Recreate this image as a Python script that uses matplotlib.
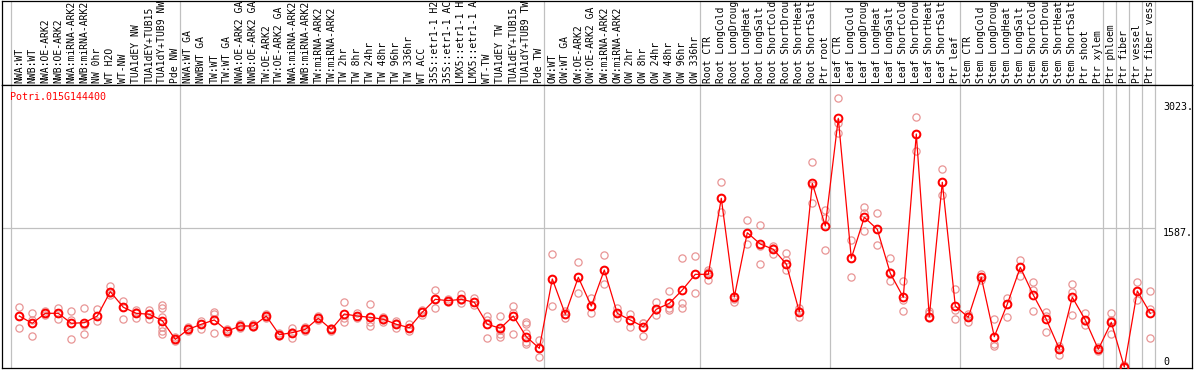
import matplotlib
matplotlib.use('Agg')
import matplotlib.pyplot as plt
from matplotlib.transforms import blended_transform_factory

# Sample names (top header), in plotting order
labels = [
    'NWA:WT', 'NWB:WT', 'NWA:OE-ARK2', 'NWB:OE-ARK2', 'NWA:miRNA-ARK2', 'NWB:miRNA-ARK2',
    'NW 0hr', 'WT H2O', 'WT-NW', 'TUA1dEY NW', 'TUA1dEY+TUB15', 'TUA1dY+TUB9 NW', 'Pde NW',
    'NWA:WT GA', 'NWBWT GA', 'TW:WT', 'TW:WT GA', 'NWA:OE-ARK2 GA', 'NWB:OE-ARK2 GA',
    'TW:OE-ARK2', 'TW:OE-ARK2 GA', 'NWA:miRNA-ARK2', 'NWB:miRNA-ARK2', 'TW:miRNA-ARK2',
    'TW:miRNA-ARK2', 'TW 2hr', 'TW 8hr', 'TW 24hr', 'TW 48hr', 'TW 96hr', 'TW 336hr', 'WT ACC',
    '35S::etr1-1 H2', '35S::etr1-1 AC', 'LMX5::etr1-1 H', 'LMX5::etr1-1 A', 'WT-TW',
    'TUA1dEY TW', 'TUA1dEY+TUB15', 'TUA1dY+TUB9 TW', 'Pde TW',
    'OW:WT', 'OW:WT GA', 'OW:OE-ARK2', 'OW:OE-ARK2 GA', 'OW:miRNA-ARK2', 'OW:miRNA-ARK2',
    'OW 2hr', 'OW 8hr', 'OW 24hr', 'OW 48hr', 'OW 96hr', 'OW 336hr',
    'Root CTR', 'Root LongCold', 'Root LongDroug', 'Root LongHeat', 'Root LongSalt',
    'Root ShortCold', 'Root ShortDrou', 'Root ShortHeat', 'Root ShortSalt', 'Ptr root',
    'Leaf CTR', 'Leaf LongCold', 'Leaf LongDroug', 'Leaf LongHeat', 'Leaf LongSalt',
    'Leaf ShortCold', 'Leaf ShortDrou', 'Leaf ShortHeat', 'Leaf ShortSalt', 'Ptr leaf',
    'Stem CTR', 'Stem LongCold', 'Stem LongDroug', 'Stem LongHeat', 'Stem LongSalt',
    'Stem ShortCold', 'Stem ShortDrou', 'Stem ShortHeat', 'Stem ShortSalt', 'Ptr shoot',
    'Ptr xylem', 'Ptr phloem', 'Ptr fiber', 'Ptr vessel', 'Ptr fiber vess',
]

# number of samples in each block between the grey separators
group_sizes = [13, 28, 12, 10, 10, 11, 1, 1, 1, 1]

# mean expression per sample
means = [
    582, 499, 613, 613, 499, 506, 582, 860, 682, 613, 602, 529, 316,
    430, 488, 537, 411, 468, 468, 582, 369, 392, 430, 556, 430, 605, 582, 567, 545,
    488, 449, 625, 773, 757, 773, 739, 488, 442, 582, 346, 213,
    1005, 602, 1024, 696, 1107, 613, 537, 460, 659, 727, 879, 1058,
    1058, 1926, 799, 1533, 1404, 1344, 1176, 631, 2097, 1610,
    2839, 1241, 1709, 1572, 1070, 796, 2660, 574, 2109, 696,
    567, 1024, 346, 719, 1138, 822, 545, 206, 796, 537, 202,
    510, 0, 868, 613,
]

# individual replicates per sample
reps = [
    [688, 442, 582], [613, 350, 537], [639, 613, 588], [677, 551, 613], [639, 316, 537],
    [670, 373, 480], [659, 522, 582], [925, 822, 845], [753, 545, 685], [651, 559, 628],
    [651, 548, 605], [708, 670, 567, 460, 414, 377], [316, 343, 297],
    [460, 430, 411], [529, 437, 488], [625, 600, 385], [434, 411, 388], [491, 468, 445],
    [491, 468, 457], [605, 582, 559], [388, 354, 365], [442, 328, 400], [460, 411, 434],
    [556, 582, 531], [430, 445, 411], [739, 517, 559], [613, 582, 559], [719, 468, 517],
    [574, 537, 519], [525, 442, 502], [488, 411, 449], [651, 625, 597], [879, 670, 776],
    [773, 757, 742], [833, 734, 765], [784, 739, 708], [582, 328, 537], [582, 377, 343, 422],
    [696, 377, 617], [517, 488, 289, 263, 388], [308, 118, 217],
    [1290, 696, 1005], [563, 639, 602], [1195, 841, 1028], [784, 620, 696], [1275, 944, 1107],
    [670, 556, 617], [605, 460, 537], [506, 357, 502], [742, 590, 651], [868, 651, 674],
    [1241, 727, 670], [1271, 841, 1062],
    [1107, 993, 1085], [2109, 1766, 1929], [746, 811, 776], [1678, 1404, 1530],
    [1621, 1176, 1381], [1385, 1290, 1359], [1298, 1107, 1222], [670, 574, 639],
    [2337, 1869, 2078], [1792, 1705, 1336],
    [3068, 2782, 2675], [1450, 1024, 1244], [1823, 1553, 1758], [1755, 1393, 1575],
    [1241, 982, 1085], [982, 639, 768], [2851, 2466, 2660], [643, 559, 617],
    [2257, 1964, 2112], [887, 545, 651],
    [517, 605, 582], [1058, 1028, 993], [551, 240, 263], [791, 574, 719], [1222, 1039, 1142],
    [967, 879, 639], [631, 396, 582], [240, 137, 217], [948, 860, 590], [613, 480, 525],
    [202, 228, 183],
    [613, 377, 537], [23, 0, 0], [967, 765, 868], [864, 659, 328],
]

gene_name = 'Potri.015G144400'
ytick_values = [3023, 1587, 0]
ytick_labels = ['3023.', '1587.', '0']

W, H = 1194, 370
fig = plt.figure(figsize=(W / 100, H / 100), dpi=100)


def px_axes(x0, y0, x1, y1):
    # axes placed in pixel coords (origin top-left)
    return fig.add_axes([x0 / W, 1 - y1 / H, (x1 - x0) / W, (y1 - y0) / H])


ax_head = px_axes(1.5, 0.5, 1192, 85)
ax = px_axes(1.5, 85, 1192, 368)

# index i sits at pixel 19.3 + 13*i
xlim = ((1.5 - 19.3) / 13, (1192 - 19.3) / 13)
per_px = 1587 / 139.0
ylim = (-1 * per_px, 282 * per_px)

grey = '#c0c0c0'
mono = 'DejaVu Sans Mono'
fs = 7.0

for a in (ax_head, ax):
    a.set_xlim(*xlim)
    a.set_xticks([])
    a.set_yticks([])
    for s in a.spines.values():
        s.set_color('black')
        s.set_linewidth(0.9)
ax.set_ylim(*ylim)
ax_head.set_ylim(0, 1)

# separators between sample blocks
seps = [-0.62]
end = -1
for g in group_sizes:
    end += g
    seps.append(end + 0.38)
for a in (ax_head, ax):
    for s in seps:
        a.axvline(s, color=grey, lw=0.9, zorder=1)

ax.hlines(1587, xlim[0], seps[-1], color=grey, lw=0.9, zorder=1)

# sample names, rotated
for i, lab in enumerate(labels):
    ax_head.text(i, 0.02, lab, rotation=90, ha='center', va='bottom',
                 family=mono, fontsize=fs, color='black')

idx = list(range(len(means)))

rx, ry = [], []
for i, vals in enumerate(reps):
    for v in vals:
        rx.append(i)
        ry.append(v)
ax.plot(rx, ry, 'o', mfc='none', mec='#e89595', ms=5.2, mew=0.9, zorder=2)
ax.plot(idx, means, '-', color='red', lw=0.9, zorder=3)
ax.plot(idx, means, 'o', mfc='none', mec='red', ms=5.6, mew=1.4, zorder=4)

ax.text((10 - 1.5) / 1190.5, 1 - 7 / 283, gene_name, transform=ax.transAxes,
        ha='left', va='top', family=mono, fontsize=7.2, color='red')

tr = blended_transform_factory(ax.transAxes, ax.transData)
for v, t in zip(ytick_values, ytick_labels):
    ax.text((1163 - 1.5) / 1190.5, v, t, transform=tr, ha='left',
            va='bottom' if v == 0 else 'top', family=mono, fontsize=7.2, color='black')

fig.savefig('out.png', dpi=100)
